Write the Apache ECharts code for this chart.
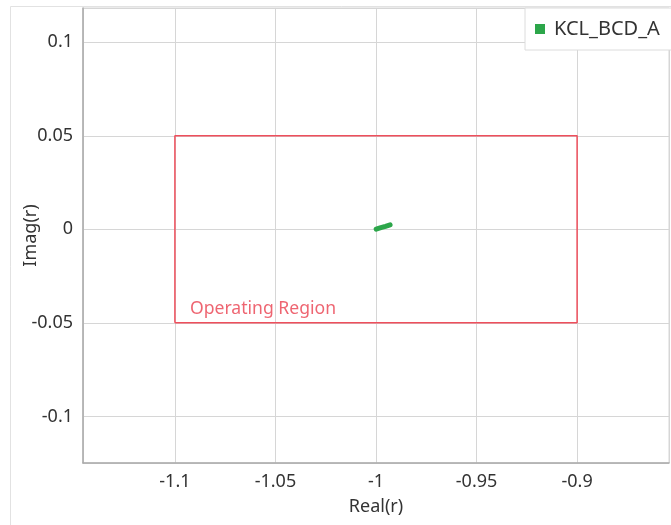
<!DOCTYPE html>
<html>
<head>
<meta charset="utf-8">
<script src="https://cdn.jsdelivr.net/npm/echarts@6/dist/echarts.min.js"></script>
<style>
  html, body { margin: 0; padding: 0; background: #fff; }
  #chart { width: 671px; height: 525px; }
</style>
</head>
<body>
<div id="chart"></div>
<script>
// Trajectory of the KCL_BCD_A eigenvalue in the complex plane
const seriesName = 'KCL_BCD_A';
const realValues = [-0.9999, -0.9976, -0.9953, -0.993];
const imagValues = [0.0001, 0.0009, 0.0016, 0.0024];

// Operating region bounds (real, imag)
const regionReal = [-1.1, -0.9];
const regionImag = [-0.05, 0.05];
const regionLabel = 'Operating Region';

// Axis ranges
const realRange = [-1.1457, -0.8543];
const imagRange = [-0.1249, 0.1183];

const FONT = 'Noto Sans';
const TEXT = '#333';
const RED = '#ee4f5c';

const chart = echarts.init(document.getElementById('chart'));

const points = realValues.map((r, i) => [r, imagValues[i]]);

// Closed outline of the operating region
const regionOutline = [
  [regionReal[0], regionImag[0]],
  [regionReal[1], regionImag[0]],
  [regionReal[1], regionImag[1]],
  [regionReal[0], regionImag[1]],
  [regionReal[0], regionImag[0]]
];

chart.setOption({
  animation: false,
  backgroundColor: '#fff',
  textStyle: { fontFamily: FONT },
  graphic: [{
    type: 'rect',
    z: -10,
    silent: true,
    shape: { x: 10.5, y: 6.5, width: 700, height: 600 },
    style: { fill: 'none', stroke: '#e2e2e2', lineWidth: 1 }
  }],
  grid: {
    left: 83, right: 2, top: 8, bottom: 62,
    containLabel: false,
    outerBoundsMode: 'none',
    show: true, borderColor: '#d6d6d6', borderWidth: 1, backgroundColor: '#fff'
  },
  legend: {
    left: 525, top: 8,
    padding: [11, 40, 11, 10],
    backgroundColor: '#fff',
    borderColor: '#dcdcdc', borderWidth: 1,
    icon: 'rect', itemWidth: 10, itemHeight: 10, itemGap: 8,
    textStyle: { fontFamily: FONT, fontSize: 20, color: TEXT, padding: [0, 0, 0, 4] },
    data: [seriesName]
  },
  xAxis: {
    type: 'value',
    min: realRange[0], max: realRange[1],
    splitNumber: 5,
    name: 'Real(r)', nameLocation: 'middle', nameGap: 35,
    nameMoveOverlap: false,
    nameTextStyle: { fontFamily: FONT, fontSize: 18, color: TEXT },
    axisLine: { show: true, onZero: false, lineStyle: { color: '#aaa', width: 1.5 } },
    axisTick: { show: false },
    axisLabel: {
      fontFamily: FONT, fontSize: 18, color: TEXT, margin: 10,
      showMinLabel: false, showMaxLabel: false
    },
    splitLine: { show: true, lineStyle: { color: '#d6d6d6', width: 1 } }
  },
  yAxis: {
    type: 'value',
    min: imagRange[0], max: imagRange[1],
    splitNumber: 5,
    name: 'Imag(r)', nameLocation: 'middle', nameGap: 43, nameRotate: 90,
    nameMoveOverlap: false,
    nameTextStyle: { fontFamily: FONT, fontSize: 18, color: TEXT },
    axisLine: { show: true, onZero: false, lineStyle: { color: '#aaa', width: 1.5 } },
    axisTick: { show: false },
    axisLabel: {
      fontFamily: FONT, fontSize: 18, color: TEXT, margin: 10,
      showMinLabel: false, showMaxLabel: false
    },
    splitLine: { show: true, lineStyle: { color: '#d6d6d6', width: 1 } }
  },
  series: [{
    name: 'region',
    type: 'line',
    data: regionOutline,
    showSymbol: false,
    symbol: 'none',
    silent: true,
    z: 5,
    lineStyle: { width: 1.5, color: RED },
    tooltip: { show: false }
  }, {
    // Region caption anchored at the lower-left corner of the box
    name: 'regionCaption',
    type: 'scatter',
    data: [[regionReal[0], regionImag[0]]],
    symbolSize: 0,
    silent: true,
    z: 6,
    label: {
      show: true, position: 'insideBottomLeft',
      formatter: regionLabel,
      offset: [10, 0],
      fontFamily: FONT, fontSize: 17.6, color: '#ea3f4e'
    }
  }, {
    name: seriesName,
    type: 'line',
    data: points,
    showSymbol: false,
    color: '#2ca64a',
    z: 7,
    lineStyle: { width: 5, cap: 'round', join: 'round', color: '#2ca64a' }
  }]
});
</script>
</body>
</html>
